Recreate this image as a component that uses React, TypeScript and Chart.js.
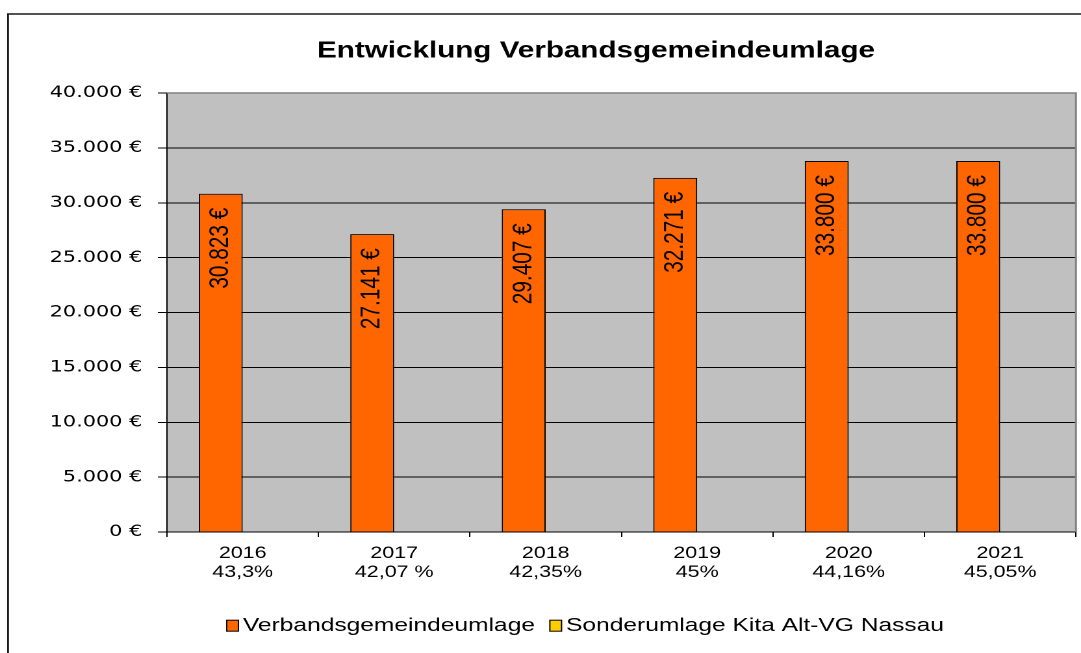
import React, { useEffect, useRef } from 'react';
import { Chart, registerables } from 'chart.js';

Chart.register(...registerables);

// ---- data ----
const chartTitle = 'Entwicklung Verbandsgemeindeumlage';
const categories = ['2016', '2017', '2018', '2019', '2020', '2021'];
const shares = ['43,3%', '42,07 %', '42,35%', '45%', '44,16%', '45,05%'];
const seriesNames = ['Verbandsgemeindeumlage', 'Sonderumlage Kita Alt-VG Nassau'];
const umlageValues = [30823, 27141, 29407, 32271, 33800, 33800];
const sonderValues = [0, 0, 0, 0, 0, 0];
const yTickLabels = ['0 €', '5.000 €', '10.000 €', '15.000 €', '20.000 €', '25.000 €', '30.000 €', '35.000 €', '40.000 €'];
const seriesColors = ['#FF6600', '#FFCC00'];

// ---- geometry (original chart is horizontally stretched) ----
const CSS_W = 1081;
const H = 653;
const W = 832; // internal drawing width, stretched to CSS_W

const ARIAL = "'Liberation Sans', Arial, sans-serif";

const fmtEuro = (v: number) =>
  String(Math.round(v)).replace(/\B(?=(\d{3})+(?!\d))/g, '.') + ' €';

const decorPlugin = {
  id: 'decor',
  afterLayout(chart: any) {
    // let y tick labels extend left of the narrow axis box without clipping
    const y = chart.scales.y;
    if (y) y.left = 0;
  },
  beforeDraw(chart: any) {
    const { ctx, chartArea: a } = chart;
    ctx.save();
    ctx.fillStyle = '#C0C0C0';
    ctx.fillRect(a.left, a.top, a.right - a.left, a.bottom - a.top);
    ctx.restore();
  },
  beforeDatasetsDraw(chart: any) {
    const { ctx, chartArea: a } = chart;
    ctx.save();
    ctx.strokeStyle = '#808080';
    ctx.lineWidth = 1.5;
    ctx.beginPath();
    ctx.moveTo(a.left, a.top);
    ctx.lineTo(a.right, a.top);
    ctx.lineTo(a.right, a.bottom);
    ctx.stroke();
    ctx.restore();
  },
  afterDatasetsDraw(chart: any) {
    const { ctx } = chart;
    const meta = chart.getDatasetMeta(0);
    const values = chart.data.datasets[0].data as number[];
    meta.data.forEach((bar: any, i: number) => {
      const { x, y } = bar.getProps(['x', 'y'], true);
      ctx.save();
      ctx.translate(x, y + 14);
      ctx.rotate(-Math.PI / 2);
      ctx.font = `20.8px ${ARIAL}`;
      ctx.fillStyle = '#000';
      ctx.textAlign = 'right';
      ctx.textBaseline = 'middle';
      ctx.fillText(fmtEuro(values[i]), 0, 0);
      ctx.restore();
    });
  },
  afterDraw(chart: any) {
    const { ctx } = chart;
    ctx.save();
    // outer frame (left and top edges)
    ctx.strokeStyle = '#1a1a1a';
    ctx.lineWidth = 1.4;
    ctx.beginPath();
    ctx.moveTo(6.2, H + 10);
    ctx.lineTo(6.2, 14);
    ctx.lineTo(W + 10, 14);
    ctx.stroke();
    // title
    ctx.font = `bold 22.8px ${ARIAL}`;
    ctx.fillStyle = '#000';
    ctx.textAlign = 'center';
    ctx.textBaseline = 'middle';
    ctx.fillText(chartTitle, 458.7, 51);
    // legend boxes
    const legend = chart.legend;
    if (legend && legend.legendHitBoxes) {
      legend.legendHitBoxes.forEach((hb: any, i: number) => {
        const bx = hb.left;
        const by = hb.top + (hb.height - 11) / 2;
        ctx.fillStyle = seriesColors[i];
        ctx.fillRect(bx, by, 9, 11);
        ctx.strokeStyle = '#000';
        ctx.lineWidth = 1;
        ctx.strokeRect(bx, by, 9, 11);
      });
    }
    ctx.restore();
  },
};

export default function App() {
  const canvasRef = useRef<HTMLCanvasElement | null>(null);

  useEffect(() => {
    const canvas = canvasRef.current;
    if (!canvas) return;
    const chart = new Chart(canvas, {
      type: 'bar',
      data: {
        labels: categories.map((c, i) => [c, shares[i]]),
        datasets: [
          {
            label: seriesNames[0],
            data: umlageValues,
            backgroundColor: seriesColors[0],
            borderColor: '#000',
            borderWidth: 1,
            categoryPercentage: 0.58,
            barPercentage: 1,
          },
          {
            label: seriesNames[1],
            data: sonderValues,
            backgroundColor: seriesColors[1],
            borderColor: '#000',
            borderWidth: 1,
            categoryPercentage: 0.58,
            barPercentage: 1,
          },
        ],
      },
      options: {
        responsive: false,
        devicePixelRatio: 2,
        animation: false,
        layout: { padding: { left: 72.9, right: 3.9, top: 93, bottom: 7.85 } },
        plugins: {
          title: { display: false },
          legend: {
            position: 'bottom',
            labels: {
              color: '#000',
              font: { family: ARIAL, size: 18.9 },
              boxWidth: 3,
              boxHeight: 11,
              padding: 11.5,
              generateLabels: (c: any) =>
                (Chart.defaults.plugins.legend.labels as any)
                  .generateLabels(c)
                  .map((it: any) => ({
                    ...it,
                    fillStyle: 'rgba(0,0,0,0)',
                    strokeStyle: 'rgba(0,0,0,0)',
                    lineWidth: 0,
                  })),
            },
          },
          tooltip: { enabled: false },
        },
        scales: {
          x: {
            grid: {
              display: true,
              drawOnChartArea: false,
              drawTicks: true,
              tickLength: 5,
              color: '#000',
              tickColor: '#000',
              offset: true,
            },
            border: { display: true, color: '#000', width: 1 },
            ticks: {
              color: '#000',
              font: { family: ARIAL, size: 16.5, lineHeight: 1.15 },
              padding: 7,
              maxRotation: 0,
              autoSkip: false,
            },
            afterFit: (s: any) => {
              s.height = 72.75;
            },
          },
          y: {
            min: 0,
            max: 40000,
            ticks: {
              stepSize: 5000,
              callback: (_v: any, i: number) => yTickLabels[i],
              color: '#000',
              font: { family: "'DejaVu Sans', Verdana, sans-serif", size: 16 },
              padding: 12,
            },
            grid: { color: '#000', tickColor: '#000', tickLength: 7, lineWidth: 1 },
            border: { display: true, color: '#000', width: 1 },
            afterFit: (s: any) => {
              s.width = 55.6;
            },
          },
        },
      },
      plugins: [decorPlugin],
    } as any);
    return () => chart.destroy();
  }, []);

  return (
    <div style={{ position: 'absolute', left: 0, top: 0, width: CSS_W, height: H, background: '#fff' }}>
      <canvas
        ref={canvasRef}
        width={W}
        height={H}
        style={{ width: `${CSS_W}px`, height: `${H}px`, display: 'block' }}
      />
    </div>
  );
}
